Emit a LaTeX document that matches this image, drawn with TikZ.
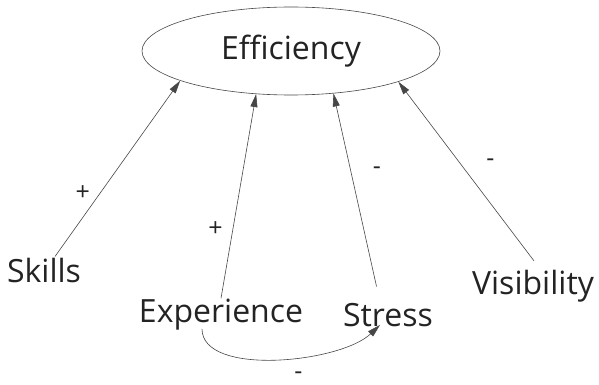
\documentclass[tikz,border=0pt]{standalone}
\usepackage{fontspec}
\setmainfont{Open Sans}
\usepackage{xcolor}
\usepackage{tikz}
\usetikzlibrary{arrows.meta,calc,shapes.geometric}
\definecolor{cldline}{RGB}{70,70,70}
\definecolor{cldtext}{RGB}{35,35,35}
\pgfkeys{tikz/cldenv/.style={x=1pt,y=-1pt,every node/.style={text=cldtext}}}
\pgfkeys{tikz/cldvar/.style={inner sep=1pt,font=\fontsize{32}{32}\selectfont}}
\pgfkeys{tikz/cldlink/.style={draw=cldline,line width=0.6pt,-{Triangle[length=13pt,width=7pt]}}}
\pgfkeys{tikz/cldsign/.style={font=\fontsize{25}{25}\selectfont,inner sep=0pt}}

\begin{document}
\begin{tikzpicture}[cldenv]
    \useasboundingbox (0,0) rectangle (599,385);
    \node[cldvar,draw=cldline,line width=0.6pt,ellipse,minimum width=298pt,minimum height=88pt] (eff) at (291,51) {Efficiency};
    \node[cldvar] (skills) at (44,270) {Skills};
    \node[cldvar] (exper) at (221,315) {Experience};
    \node[cldvar] (stress) at (388,315) {Stress};
    \node[cldvar] (visib) at (533,286) {Visibility};
    \draw[cldlink] ([xshift=11pt]skills.north) -- (eff.195);
    \draw[cldlink] (exper.north) -- (eff.231);
    \draw[cldlink,shorten <=16pt] ([xshift=-8pt]stress.north) -- (eff.315);
    \draw[cldlink,shorten <=10pt] ([xshift=7pt]visib.north) -- (eff.344);
    \draw[cldlink] ([xshift=-19pt,yshift=3pt]exper.south) .. controls +(0,48) and +(-40,38) .. ([xshift=-8pt,yshift=3pt]stress.south);
    \path (skills.north) -- (eff.195) node[pos=0.36,left=3pt,cldsign] {+};
    \path (exper.north) -- (eff.231) node[pos=0.34,left=10pt,cldsign] {+};
    \path (stress.north) -- (eff.315) node[pos=0.63,right=19pt,cldsign] {-};
    \path (visib.north) -- (eff.344) node[pos=0.57,right=30pt,cldsign] {-};
    \path (exper.south) -- (stress.south) node[midway,below=42pt,xshift=-6pt,cldsign] {-};
\end{tikzpicture}
\end{document}
